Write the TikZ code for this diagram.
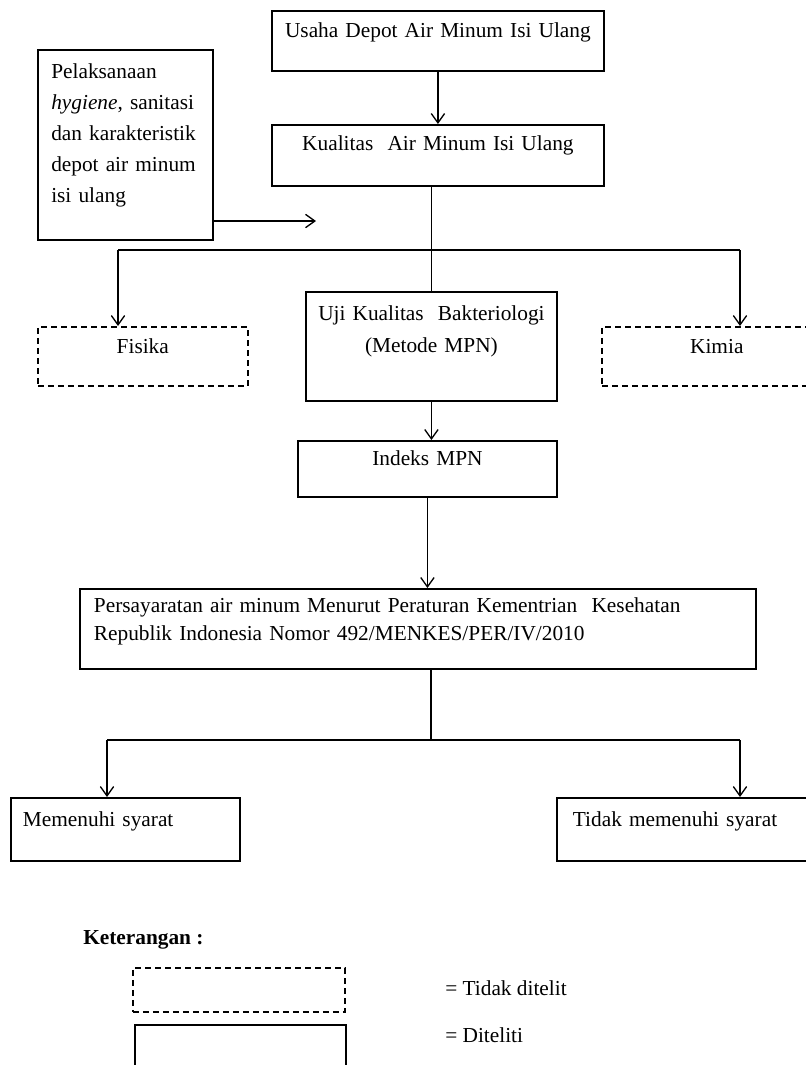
\documentclass[tikz,border=0pt]{standalone}
\usepackage{fontspec}
\setmainfont{Liberation Serif}
\usepackage{tikz}
\usetikzlibrary{arrows.meta,positioning,calc}

\begin{document}
\begin{tikzpicture}[
  x=0.75pt, y=-0.75pt,
  flowbox/.style={rectangle, draw=black, line width=1.4pt, anchor=north west, inner ysep=0pt, inner xsep=5pt, font=\fontsize{16}{23}\selectfont},
  dashbox/.style={flowbox, line width=1.2pt, dash pattern=on 4.5pt off 3pt},
  legtext/.style={anchor=base west, inner sep=0pt, font=\fontsize{16}{20}\selectfont},
  conn/.style={line width=1pt},
  arr/.style={conn, -{Straight Barb[length=7pt,width=10pt]}},
]
\useasboundingbox (0,0) rectangle (806,1065);
% main chain
\node[flowbox, text width=239pt, align=center, text height=20.25pt, text depth=24.75pt] (usaha) at (271,10) {Usaha Depot Air Minum Isi Ulang};
\node[flowbox, text width=239pt, align=center, text height=19.5pt, text depth=26.25pt] (kualitas) at (271,124) {Kualitas\ \ Air Minum Isi Ulang};
\node[flowbox, inner xsep=10pt, text width=111.25pt, align=left, text height=21.75pt, text depth=120.75pt, font=\fontsize{16}{23.25}\selectfont] (pelak) at (37,49) {Pelaksanaan\\\textit{hygiene}, sanitasi\\dan karakteristik\\depot air minum\\isi ulang};
\node[dashbox, text width=147.5pt, align=center, text height=20.25pt, text depth=24pt] (fisika) at (37,326) {Fisika};
\node[flowbox, text width=178.25pt, align=center, text height=21.75pt, text depth=60pt, font=\fontsize{16}{24}\selectfont] (uji) at (305,291) {Uji Kualitas\ \ Bakteriologi\\(Metode MPN)};
\node[dashbox, text width=162.5pt, align=center, text height=20.25pt, text depth=24pt] (kimia) at (601,326) {Kimia};
\node[flowbox, text width=184.25pt, align=center, text height=18.75pt, text depth=23.25pt] (indeks) at (297,440) {Indeks MPN};
\node[flowbox, inner xsep=10.5pt, text width=486pt, align=left, text height=18pt, text depth=42pt, font=\fontsize{16}{21}\selectfont] (persy) at (79,588) {Persayaratan air minum Menurut Peraturan Kementrian\ \ Kesehatan\\Republik Indonesia Nomor 492/MENKES/PER/IV/2010};
\node[flowbox, inner xsep=9pt, text width=153.75pt, align=left, text height=21.75pt, text depth=25.5pt] (memenuhi) at (10,797) {Memenuhi syarat};
\node[flowbox, inner xsep=12pt, text width=171pt, align=left, text height=21.75pt, text depth=25.5pt] (tidak) at (556,797) {Tidak memenuhi syarat};

% connectors
\coordinate (pelakend) at (316,221);
\coordinate (fisikatop) at (118,250);
\coordinate (kimiatop) at (740,250);
\coordinate (splitmid) at (431,740);
\coordinate (memtop) at (107,740);
\coordinate (tidaktop) at (740,740);
\draw[arr] (usaha.south) -- (kualitas.north);
\draw[arr] (pelak.east |- pelakend) -- (pelakend);
\draw[conn] (kualitas.south -| uji.north) -- (uji.north);
\draw[conn] (fisikatop) -- (kimiatop);
\draw[arr] (fisikatop) -- (fisikatop |- fisika.north);
\draw[arr] (kimiatop) -- (kimiatop |- kimia.north);
\draw[arr] (uji.south) -- (uji.south |- indeks.north);
\draw[arr] (indeks.south) -- (indeks.south |- persy.north);
\draw[conn] (splitmid |- persy.south) -- (splitmid);
\draw[conn] (memtop) -- (tidaktop);
\draw[arr] (memtop) -- (memtop |- memenuhi.north);
\draw[arr] (tidaktop) -- (tidaktop |- tidak.north);

% legend
\node[legtext, font=\fontsize{16}{20}\selectfont\bfseries] (ket) at (83,944) {Keterangan :};
\node[dashbox, minimum width=159pt, minimum height=33pt, inner sep=0pt] (legdash) at (132,967) {};
\node[flowbox, minimum width=158.25pt, minimum height=45pt, inner sep=0pt] (legsolid) at (134,1024) {};
\node[legtext] (legdashtxt) at (445,995) {= Tidak ditelit};
\node[legtext] (legsolidtxt) at (445,1042) {= Diteliti};
\end{tikzpicture}
\end{document}
